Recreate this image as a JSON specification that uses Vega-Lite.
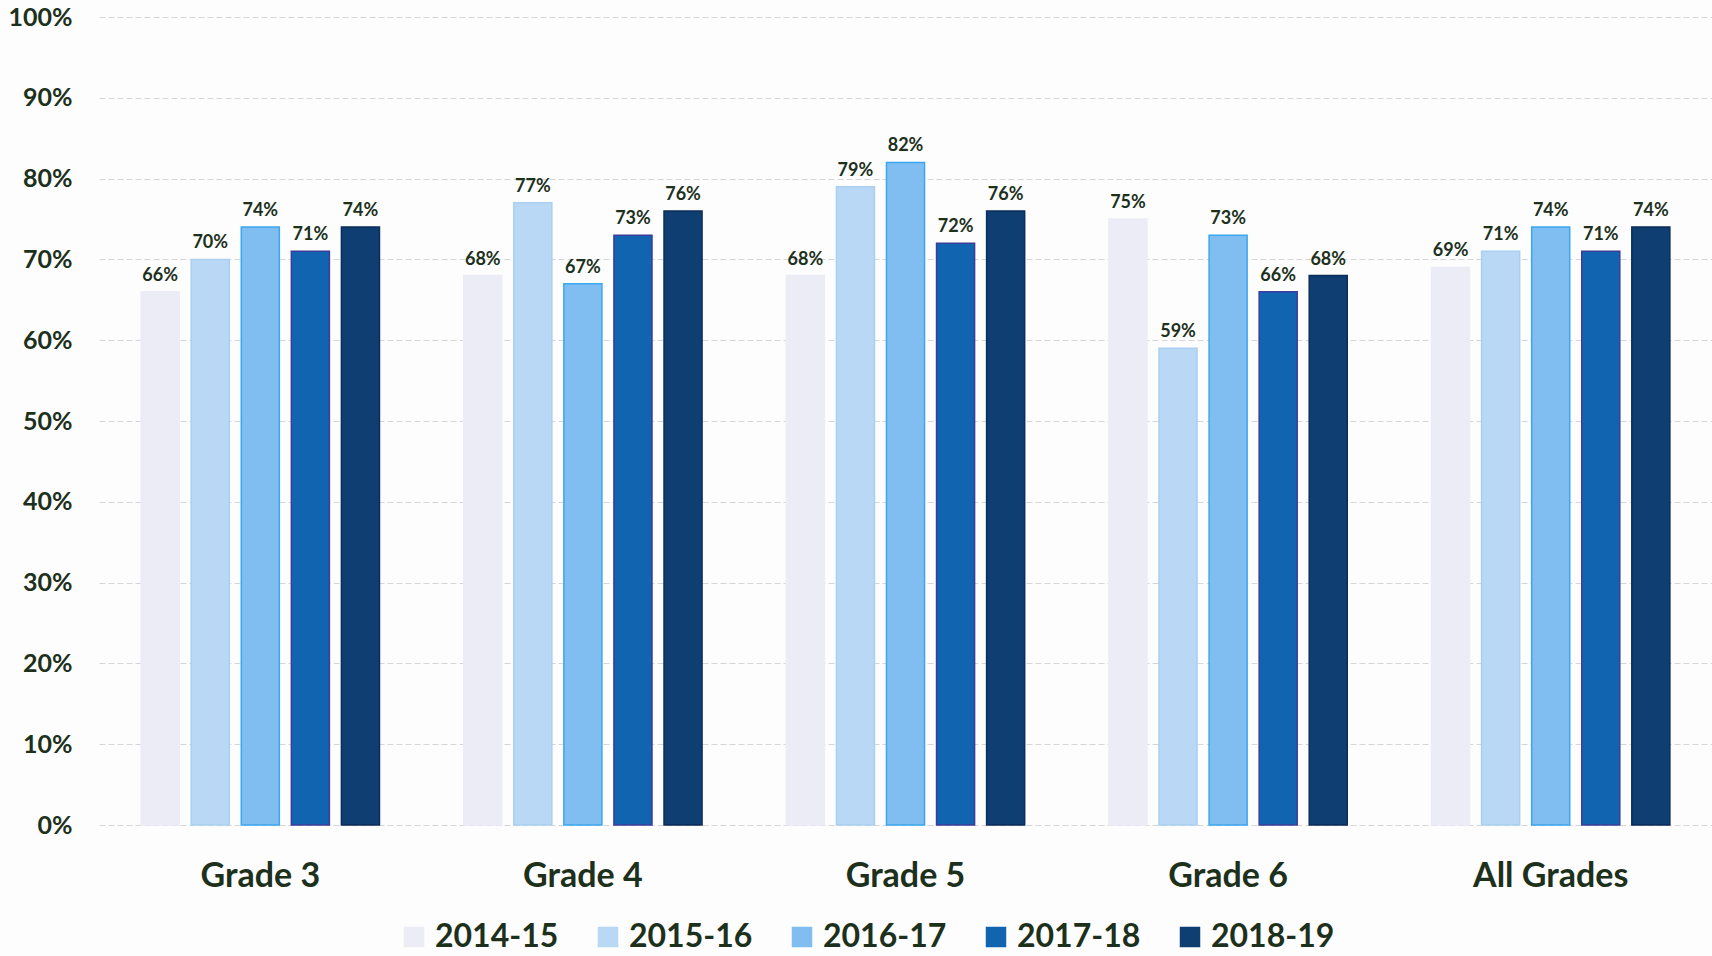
{
  "$schema": "https://vega.github.io/schema/vega-lite/v6.json",
  "autosize": {"type": "none"},
  "width": 1613,
  "height": 808,
  "padding": {"left": 99, "top": 17, "right": 0, "bottom": 131},
  "background": "#fdfdfd",
  "data": {
    "values": [
      {"grade": "Grade 3", "year": "2014-15", "value": 0.66},
      {"grade": "Grade 3", "year": "2015-16", "value": 0.70},
      {"grade": "Grade 3", "year": "2016-17", "value": 0.74},
      {"grade": "Grade 3", "year": "2017-18", "value": 0.71},
      {"grade": "Grade 3", "year": "2018-19", "value": 0.74},
      {"grade": "Grade 4", "year": "2014-15", "value": 0.68},
      {"grade": "Grade 4", "year": "2015-16", "value": 0.77},
      {"grade": "Grade 4", "year": "2016-17", "value": 0.67},
      {"grade": "Grade 4", "year": "2017-18", "value": 0.73},
      {"grade": "Grade 4", "year": "2018-19", "value": 0.76},
      {"grade": "Grade 5", "year": "2014-15", "value": 0.68},
      {"grade": "Grade 5", "year": "2015-16", "value": 0.79},
      {"grade": "Grade 5", "year": "2016-17", "value": 0.82},
      {"grade": "Grade 5", "year": "2017-18", "value": 0.72},
      {"grade": "Grade 5", "year": "2018-19", "value": 0.76},
      {"grade": "Grade 6", "year": "2014-15", "value": 0.75},
      {"grade": "Grade 6", "year": "2015-16", "value": 0.59},
      {"grade": "Grade 6", "year": "2016-17", "value": 0.73},
      {"grade": "Grade 6", "year": "2017-18", "value": 0.66},
      {"grade": "Grade 6", "year": "2018-19", "value": 0.68},
      {"grade": "All Grades", "year": "2014-15", "value": 0.69},
      {"grade": "All Grades", "year": "2015-16", "value": 0.71},
      {"grade": "All Grades", "year": "2016-17", "value": 0.74},
      {"grade": "All Grades", "year": "2017-18", "value": 0.71},
      {"grade": "All Grades", "year": "2018-19", "value": 0.74}
    ]
  },
  "config": {
    "view": {"stroke": null},
    "font": "Lato",
    "axis": {"labelColor": "#1c301c", "labelFontWeight": "bold", "domain": false, "ticks": false, "title": null}
  },
  "encoding": {
    "x": {
      "field": "grade", "type": "nominal", "sort": null,
      "scale": {"paddingInner": 0.224, "paddingOuter": 0.112},
      "axis": {"labelAngle": 0, "labelFontSize": 34, "labelPadding": 34, "grid": false}
    },
    "xOffset": {
      "field": "year", "type": "nominal", "sort": null,
      "scale": {"paddingInner": 0.24, "paddingOuter": 0.12}
    },
    "y": {
      "field": "value", "type": "quantitative",
      "scale": {"domain": [0, 1], "nice": false},
      "axis": {
        "values": [0, 0.1, 0.2, 0.3, 0.4, 0.5, 0.6, 0.7, 0.8, 0.9, 1],
        "format": ".0%",
        "labelFontSize": 25,
        "labelPadding": 27,
        "minExtent": 89, "maxExtent": 89,
        "gridColor": "#d6d6d6", "gridWidth": 1, "gridDash": [6, 3]
      }
    }
  },
  "layer": [
    {
      "mark": {"type": "bar", "strokeWidth": 1.5},
      "encoding": {
        "color": {
          "field": "year", "type": "nominal", "sort": null,
          "scale": {
            "domain": ["2014-15", "2015-16", "2016-17", "2017-18", "2018-19"],
            "range": ["#ececf6", "#b9d8f5", "#80bdf0", "#1064b0", "#0e3e72"]
          },
          "legend": {
            "title": null, "orient": "none", "direction": "horizontal",
            "legendX": 299, "legendY": 904,
            "symbolType": "square", "symbolSize": 420, "symbolStrokeWidth": 0,
            "labelFontSize": 32, "labelFontWeight": "bold", "labelColor": "#1c301c",
            "labelOffset": 5, "columnPadding": 33, "labelLimit": 300
          }
        },
        "stroke": {
          "field": "year", "type": "nominal", "sort": null,
          "scale": {
            "domain": ["2014-15", "2015-16", "2016-17", "2017-18", "2018-19"],
            "range": ["#ececf6", "#a9cff3", "#3aa8f0", "#3b3c9c", "#0b2d5a"]
          },
          "legend": null
        }
      }
    },
    {
      "mark": {"type": "text", "baseline": "alphabetic", "dy": -11, "fontSize": 18, "fontWeight": "bold", "color": "#1c301c"},
      "encoding": {
        "text": {"field": "value", "type": "quantitative", "format": ".0%"}
      }
    }
  ]
}
